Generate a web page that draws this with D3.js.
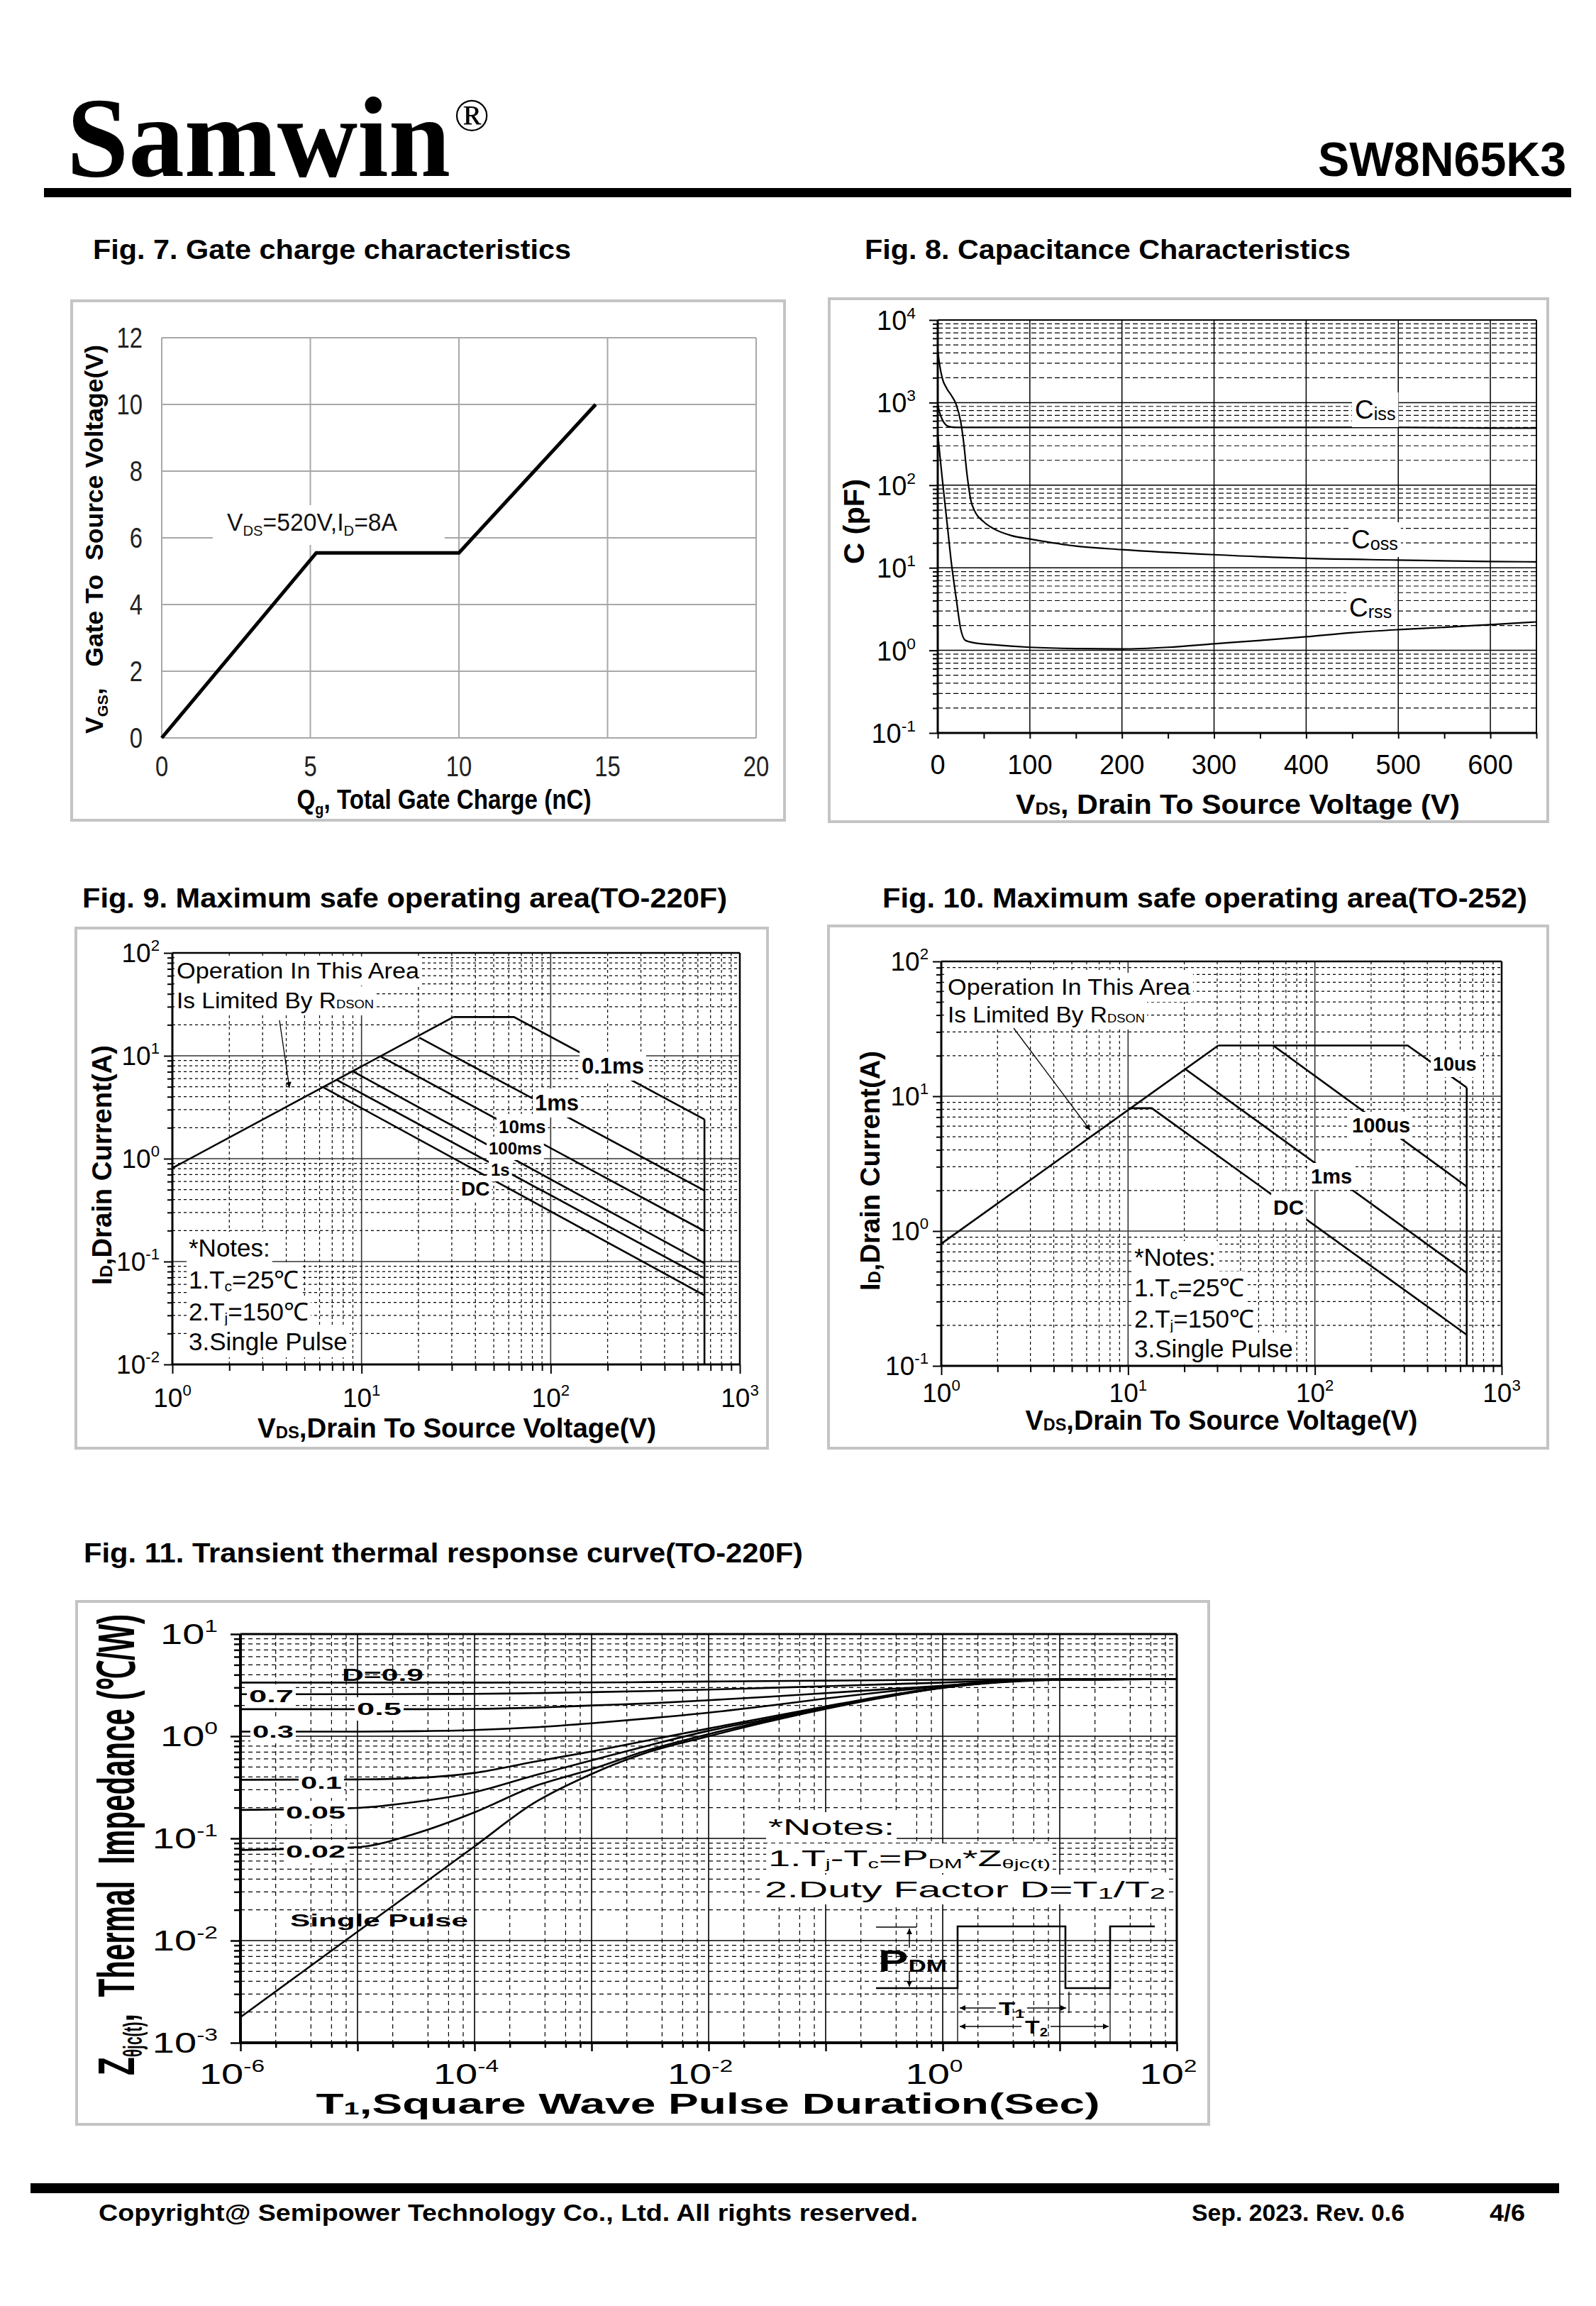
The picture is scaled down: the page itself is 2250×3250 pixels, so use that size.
<!DOCTYPE html>
<html>
<head>
<meta charset="utf-8">
<script src="https://cdn.jsdelivr.net/npm/d3@7"></script>
<style>
  body { margin: 0; background: #fff; }
  svg { display: block; }
  text { white-space: pre; }
</style>
</head>
<body>
<svg id="page" width="2250" height="3250"></svg>
<script>
const SANS = "'Liberation Sans', Arial, sans-serif";
const SERIF = "'Liberation Serif', 'Times New Roman', serif";

// Fig 7 - gate charge
const gcXTicks = [0, 5, 10, 15, 20];
const gcYTicks = [0, 2, 4, 6, 8, 10, 12];
const gcQ = [0, 5.2, 10, 14.6];
const gcV = [0, 5.55, 5.55, 10];

// Fig 8 - capacitance
const capXTicks = [0, 100, 200, 300, 400, 500, 600];
const capExps = [-1, 0, 1, 2, 3, 4];
const cissV = [0, 2, 5, 10, 15, 20, 30, 100, 200, 300, 400, 500, 600, 650];
const cissPF = [950, 760, 620, 525, 505, 500, 500, 500, 500, 500, 500, 500, 490, 490];
const cossV = [0, 2, 5, 10, 15, 20, 25, 28, 32, 36, 40, 50, 60, 80, 100, 150, 200, 300, 400, 500, 600, 650];
const cossPF = [4300, 2900, 1960, 1470, 1210, 950, 580, 340, 129, 65, 49, 36, 30, 24.5, 22.3, 18.3, 16.6, 14.4, 13.0, 12.4, 11.9, 11.8];
const crssV = [0, 5, 10, 15, 20, 25, 30, 40, 60, 100, 150, 200, 250, 300, 350, 400, 450, 500, 550, 600, 650];
const crssPF = [415, 117, 36, 11, 4.3, 1.8, 1.32, 1.23, 1.17, 1.09, 1.05, 1.04, 1.09, 1.2, 1.32, 1.46, 1.64, 1.78, 1.9, 2.05, 2.21];

// Fig 9 - SOA TO-220F  [V, A]
const soa220Rds = [[1, 0.81], [30.6, 23.8]];
const soa220T01m = [[30.6, 23.8], [64, 23.8], [650, 2.41]];
const soa220T1m = [[20.2, 15.0], [650, 0.49]];
const soa220T10m = [[12.7, 9.8], [650, 0.198]];
const soa220T100m = [[9.07, 7.0], [650, 0.0964]];
const soa220T1s = [[7.39, 5.83], [650, 0.069]];
const soa220Dc = [[6.32, 4.91], [650, 0.047]];
const soa220Bv = [[650, 2.41], [650, 0.01]];

// Fig 10 - SOA TO-252  [V, A]
const soa252Rds = [[1, 0.805], [30.4, 23.8]];
const soa252T10u = [[30.4, 23.8], [314, 23.8], [650, 11.6]];
const soa252T100u = [[59.8, 23.8], [650, 2.14]];
const soa252T1m = [[20.0, 16.1], [650, 0.489]];
const soa252Dc = [[10.07, 8.15], [13.4, 8.15], [650, 0.17]];
const soa252Bv = [[650, 11.6], [650, 0.1]];

// Fig 11 - transient thermal impedance
const zthT = [1e-6, 3.16e-6, 1e-5, 3.16e-5, 1e-4, 3.16e-4, 1e-3, 3.16e-3, 1e-2, 3.16e-2, 0.1, 0.316, 1, 3.16, 10, 100];
const zthD09 = [3.35, 3.35, 3.35, 3.35, 3.35, 3.36, 3.36, 3.39, 3.43, 3.47, 3.5, 3.54, 3.57, 3.6, 3.62, 3.63];
const zthD07 = [2.58, 2.58, 2.58, 2.59, 2.6, 2.64, 2.7, 2.77, 2.86, 2.97, 3.09, 3.22, 3.35, 3.5, 3.6, 3.63];
const zthD05 = [1.84, 1.84, 1.84, 1.84, 1.85, 1.9, 2.0, 2.1, 2.25, 2.43, 2.64, 2.88, 3.12, 3.45, 3.59, 3.63];
const zthD03 = [1.11, 1.11, 1.11, 1.12, 1.15, 1.22, 1.34, 1.5, 1.7, 1.98, 2.34, 2.72, 3.1, 3.45, 3.59, 3.63];
const zthD01 = [0.375, 0.376, 0.378, 0.39, 0.438, 0.56, 0.71, 0.92, 1.19, 1.53, 1.96, 2.48, 3.01, 3.43, 3.59, 3.63];
const zthD005 = [0.19, 0.193, 0.199, 0.228, 0.283, 0.41, 0.58, 0.82, 1.13, 1.47, 1.92, 2.45, 3.0, 3.42, 3.58, 3.63];
const zthD002 = [0.077, 0.079, 0.082, 0.112, 0.18, 0.32, 0.475, 0.74, 1.05, 1.42, 1.88, 2.42, 2.98, 3.4, 3.58, 3.63];
const zthSingle = [0.00178, 0.00466, 0.0122, 0.0319, 0.0836, 0.219, 0.427, 0.708, 1.0, 1.38, 1.85, 2.4, 2.98, 3.37, 3.57, 3.63];
const zthLabels = ["D=0.9", "0.7", "0.5", "0.3", "0.1", "0.05", "0.02", "Single Pulse"];

const svg = d3.select("#page");
svg.append("rect").attr("width", 2250).attr("height", 3250).attr("fill", "#fff");

const defs = svg.append("defs");
defs.append("marker").attr("id", "arr")
    .attr("viewBox", "0 0 10 10").attr("refX", 10).attr("refY", 5)
    .attr("markerWidth", 12).attr("markerHeight", 8).attr("markerUnits", "userSpaceOnUse")
    .attr("orient", "auto-start-reverse")
    .append("path").attr("d", "M0,0 L10,5 L0,10 z").attr("fill", "#000");

// text with sub/superscript parts
function txt(g, x, y, parts, o = {}) {
    const size = o.size || 30;
    const t = g.append("text")
        .attr("x", x).attr("y", y)
        .attr("font-size", size)
        .attr("font-family", o.family || SANS)
        .attr("font-weight", o.bold ? "bold" : "normal")
        .attr("text-anchor", o.anchor || "start")
        .attr("fill", o.fill || "#000");
    if (typeof parts === "string") parts = [[parts]];
    let shift = 0;
    parts.forEach(([s, kind]) => {
        const target = kind === "sub" ? size * (o.subDy ?? 0.2) : kind === "sup" ? -size * 0.42 : 0;
        t.append("tspan")
            .attr("font-size", kind ? size * (o.small || 0.6) : size)
            .attr("dy", target - shift)
            .text(s);
        shift = target;
    });
    if (o.len) t.attr("textLength", o.len).attr("lengthAdjust", "spacingAndGlyphs");
    if (o.rotate) t.attr("transform", `rotate(-90, ${x}, ${y})`);
    if (o.bg) {
        const b = t.node().getBBox();
        const p = o.bg === true ? 3 : o.bg;
        g.insert("rect", () => t.node())
            .attr("x", b.x - p).attr("y", b.y - p)
            .attr("width", b.width + 2 * p).attr("height", b.height + 2 * p)
            .attr("fill", "#fff");
    }
    return t;
}

// label squeezed or stretched horizontally around its anchor
function scaledTxt(g, x, y, sx, parts, o) {
    const lg = g.append("g").attr("transform", `translate(${x},${y}) scale(${sx},1)`);
    return txt(lg, 0, 0, parts, o);
}

function hLines(g, y, vals, x0, x1, st) {
    g.append("g").selectAll("line").data(vals).join("line")
        .attr("x1", x0).attr("x2", x1)
        .attr("y1", d => y(d)).attr("y2", d => y(d))
        .attr("stroke", st.color || "#000").attr("stroke-width", st.w || 1)
        .attr("stroke-dasharray", st.dash || null);
}

function vLines(g, x, vals, y0, y1, st) {
    g.append("g").selectAll("line").data(vals).join("line")
        .attr("y1", y0).attr("y2", y1)
        .attr("x1", d => x(d)).attr("x2", d => x(d))
        .attr("stroke", st.color || "#000").attr("stroke-width", st.w || 1)
        .attr("stroke-dasharray", st.dash || null);
}

function logTicks(e0, e1, mults) {
    const out = [];
    for (let e = e0; e < e1; e++) for (const m of mults) out.push(m * Math.pow(10, e));
    return out;
}

function tickAxis(g, axis, tr, w) {
    const a = g.append("g").attr("transform", tr).call(axis);
    a.select("path.domain").remove();
    a.selectAll("line").attr("stroke", "#000").attr("stroke-width", w || 2);
    a.selectAll("text").remove();
    return a;
}

function frame(g, L, R, T, B, wThick, wThin) {
    g.append("line").attr("x1", L).attr("x2", L).attr("y1", T).attr("y2", B).attr("stroke", "#000").attr("stroke-width", wThick);
    g.append("line").attr("x1", L).attr("x2", R).attr("y1", B).attr("y2", B).attr("stroke", "#000").attr("stroke-width", wThick);
    g.append("line").attr("x1", L).attr("x2", R).attr("y1", T).attr("y2", T).attr("stroke", "#000").attr("stroke-width", wThin);
    g.append("line").attr("x1", R).attr("x2", R).attr("y1", T).attr("y2", B).attr("stroke", "#000").attr("stroke-width", wThin);
}

function box(x0, y0, x1, y1) {
    svg.append("rect").attr("x", x0).attr("y", y0).attr("width", x1 - x0).attr("height", y1 - y0)
        .attr("fill", "none").attr("stroke", "#c4c4c4").attr("stroke-width", 4);
}

// ---------- header / footer ----------
txt(svg, 94, 248, "Samwin", { size: 160, bold: true, family: SERIF, len: 541 });
txt(svg, 640, 184, "®", { size: 66, family: SERIF });
txt(svg, 2208, 248, "SW8N65K3", { size: 69, bold: true, anchor: "end", len: 350 });
svg.append("rect").attr("x", 62).attr("y", 265).attr("width", 2153).attr("height", 13).attr("fill", "#000");

svg.append("rect").attr("x", 43).attr("y", 3077).attr("width", 2155).attr("height", 14).attr("fill", "#000");
txt(svg, 139, 3130, "Copyright@ Semipower Technology Co., Ltd. All rights reserved.", { size: 33, bold: true, len: 1155 });
txt(svg, 1680, 3130, "Sep. 2023. Rev. 0.6", { size: 33, bold: true, len: 300 });
txt(svg, 2100, 3130, "4/6", { size: 33, bold: true, len: 50 });

// titles
txt(svg, 131, 365, "Fig. 7. Gate charge characteristics", { size: 38, bold: true, len: 674 });
txt(svg, 1219, 365, "Fig. 8. Capacitance Characteristics", { size: 38, bold: true, len: 685 });
txt(svg, 116, 1279, "Fig. 9. Maximum safe operating area(TO-220F)", { size: 38, bold: true, len: 909 });
txt(svg, 1244, 1279, "Fig. 10. Maximum safe operating area(TO-252)", { size: 38, bold: true, len: 909 });
txt(svg, 118, 2202, "Fig. 11. Transient thermal response curve(TO-220F)", { size: 38, bold: true, len: 1014 });

// ---------- Fig 7 ----------
function drawGateCharge() {
    box(101, 424, 1106, 1156);
    const g = svg.append("g");
    const x = d3.scaleLinear().domain([0, 20]).range([228, 1066]);
    const y = d3.scaleLinear().domain([0, 12]).range([1040, 476]);
    vLines(g, x, gcXTicks, y(0), y(12), { color: "#a8a8a8", w: 2 });
    hLines(g, y, gcYTicks, x(0), x(20), { color: "#a8a8a8", w: 2 });

    gcYTicks.forEach(v => scaledTxt(g, 201, y(v) + 14, 0.82, String(v), { size: 40, anchor: "end", fill: "#222" }));
    gcXTicks.forEach(v => scaledTxt(g, x(v), 1094, 0.82, String(v), { size: 40, anchor: "middle", fill: "#222" }));

    g.append("path")
        .datum(gcQ.map((q, i) => [q, gcV[i]]))
        .attr("d", d3.line().x(d => x(d[0])).y(d => y(d[1])))
        .attr("fill", "none").attr("stroke", "#000").attr("stroke-width", 5);

    g.append("rect").attr("x", 300).attr("y", 712).attr("width", 327).attr("height", 56).attr("fill", "#fff");
    txt(g, 320, 748, [["V"], ["DS", "sub"], ["=520V,I"], ["D", "sub"], ["=8A"]], { size: 35, len: 240, fill: "#111" });

    txt(g, 145, 760, [["V"], ["GS", "sub"], [",   Gate To  Source Voltage(V)"]], { size: 35, bold: true, anchor: "middle", rotate: true, len: 548 });
    txt(g, 626, 1140, [["Q"], ["g", "sub"], [", Total Gate Charge (nC)"]], { size: 38, bold: true, anchor: "middle", len: 415 });
}

// ---------- Fig 8 ----------
function drawCapacitance() {
    box(1169, 421, 2182, 1158);
    const g = svg.append("g");
    const x = d3.scaleLinear().domain([0, 650]).range([1322, 2166]);
    const y = d3.scaleLog().domain([0.1, 10000]).range([1033, 451]);
    const [L, R] = x.range(), [B, T] = y.range();

    hLines(g, y, logTicks(-1, 4, [2, 3, 4, 5, 6, 7, 8, 9]), L, R, { w: 1.2, dash: "7,4" });
    hLines(g, y, [1, 10, 100, 1000], L, R, { w: 1.5 });
    vLines(g, x, capXTicks.slice(1), T, B, { w: 1.5 });

    tickAxis(g, d3.axisBottom(x).tickValues(d3.range(0, 651, 50)).tickSize(8).tickFormat(""), `translate(0,${B})`);
    tickAxis(g, d3.axisLeft(y).tickValues(logTicks(-1, 4, [2, 3, 4, 5, 6, 7, 8, 9])).tickSize(7).tickFormat(""), `translate(${L},0)`);
    tickAxis(g, d3.axisLeft(y).tickValues(capExps.map(e => Math.pow(10, e))).tickSize(12).tickFormat(""), `translate(${L},0)`);
    frame(g, L, R, T, B, 3, 2);

    capExps.forEach(e => txt(g, 1291, y(Math.pow(10, e)) + 14, [["10"], [String(e), "sup"]], { size: 38, anchor: "end" }));
    capXTicks.forEach(v => txt(g, x(v), 1091, String(v), { size: 38, anchor: "middle" }));

    const line = d3.line().x(d => x(d[0])).y(d => y(d[1])).curve(d3.curveMonotoneX);
    [[cissV, cissPF], [cossV, cossPF], [crssV, crssPF]].forEach(([vs, cs]) => {
        g.append("path").datum(vs.map((v, i) => [v, cs[i]]))
            .attr("d", line).attr("fill", "none").attr("stroke", "#000").attr("stroke-width", 2.2);
    });

    txt(g, 1910, 590, [["C"], ["iss", "sub"]], { size: 37, small: 0.68, subDy: 0.06, bg: 4 });
    txt(g, 1905, 773, [["C"], ["oss", "sub"]], { size: 37, small: 0.68, subDy: 0.06, bg: 4 });
    txt(g, 1902, 869, [["C"], ["rss", "sub"]], { size: 37, small: 0.68, subDy: 0.06, bg: 4 });

    txt(g, 1218, 735, "C (pF)", { size: 40, bold: true, anchor: "middle", rotate: true, len: 120 });
    txt(g, 1745, 1147, [["V"], ["DS", "sub"], [", Drain To Source Voltage (V)"]], { size: 38, bold: true, anchor: "middle", len: 626, small: 0.62, subDy: 0.03 });
}

// ---------- Fig 9 / 10 ----------
function drawSoa(c) {
    box(...c.box);
    const g = svg.append("g");
    const x = d3.scaleLog().domain([1, 1000]).range([c.L, c.R]);
    const y = d3.scaleLog().domain([Math.pow(10, c.yExp[0]), Math.pow(10, c.yExp[1])]).range([c.B, c.T]);
    const minorX = logTicks(0, 3, [2, 3, 4, 5, 6, 7, 8, 9]);
    const minorY = logTicks(c.yExp[0], c.yExp[1], [2, 3, 4, 5, 6, 7, 8, 9]);
    const majX = [10, 100];
    const majY = d3.range(c.yExp[0] + 1, c.yExp[1]).map(e => Math.pow(10, e));

    hLines(g, y, minorY, c.L, c.R, { w: 1.2, dash: "4,4" });
    vLines(g, x, minorX, c.T, c.B, { w: 1.2, dash: "4,4" });
    hLines(g, y, majY, c.L, c.R, { w: 1.6, color: "#333" });
    vLines(g, x, majX, c.T, c.B, { w: 1.6, color: "#333" });

    tickAxis(g, d3.axisBottom(x).tickValues(minorX).tickSize(9).tickFormat(""), `translate(0,${c.B})`);
    tickAxis(g, d3.axisBottom(x).tickValues([1, 10, 100, 1000]).tickSize(13).tickFormat(""), `translate(0,${c.B})`);
    tickAxis(g, d3.axisLeft(y).tickValues(minorY).tickSize(7).tickFormat(""), `translate(${c.L},0)`);
    tickAxis(g, d3.axisLeft(y).tickValues(majY.concat([y.domain()[0], y.domain()[1]])).tickSize(12).tickFormat(""), `translate(${c.L},0)`);
    frame(g, c.L, c.R, c.T, c.B, 3, 2.5);

    d3.range(c.yExp[0], c.yExp[1] + 1).forEach(e =>
        txt(g, c.L - 18, y(Math.pow(10, e)) + 13, [["10"], [String(e), "sup"]], { size: 37, anchor: "end" }));
    [0, 1, 2, 3].forEach(e =>
        txt(g, x(Math.pow(10, e)), c.xLabY, [["10"], [String(e), "sup"]], { size: 37, anchor: "middle" }));

    const line = d3.line().x(d => x(d[0])).y(d => y(d[1]));
    c.lines.forEach(pts => {
        g.append("path").datum(pts).attr("d", line)
            .attr("fill", "none").attr("stroke", "#000").attr("stroke-width", 2.6);
    });

    c.labels.forEach(l => txt(g, l[1], l[2], l[0], { size: l[3], bold: true, bg: 3 }));

    txt(g, c.opX, c.opY[0], "Operation In This Area", { size: 31, len: 342, bg: 3 });
    txt(g, c.opX, c.opY[1], [["Is Limited By R"], ["DSON", "sub"]], { size: 31, len: 278, small: 0.55, subDy: 0, bg: 3 });
    g.append("line")
        .attr("x1", c.arrow[0]).attr("y1", c.arrow[1]).attr("x2", c.arrow[2]).attr("y2", c.arrow[3])
        .attr("stroke", "#000").attr("stroke-width", 1.3).attr("marker-end", "url(#arr)");

    const notes = [
        [["*Notes:"]],
        [["1.T"], ["c", "sub"], ["=25℃"]],
        [["2.T"], ["j", "sub"], ["=150℃"]],
        [["3.Single Pulse"]]
    ];
    notes.forEach((n, i) => txt(g, c.noteX, c.noteY[i], n, { size: 35, small: 0.6, subDy: 0.1, bg: 3 }));

    txt(g, c.yTitle[0], c.yTitle[1], [["I"], ["D", "sub"], [",Drain Current(A)"]], { size: 38, bold: true, anchor: "middle", rotate: true, len: 338, small: 0.62, subDy: 0.03 });
    txt(g, c.xTitle[0], c.xTitle[1], [["V"], ["DS", "sub"], [",Drain To Source Voltage(V)"]], { size: 38, bold: true, anchor: "middle", len: c.xTitle[2], small: 0.62, subDy: 0.03 });
}

// ---------- Fig 11 ----------
function drawThermal() {
    box(108, 2257, 1704, 2994);
    const g = svg.append("g");
    const x = d3.scaleLog().domain([1e-6, 100]).range([339, 1659]);
    const y = d3.scaleLog().domain([1e-3, 10]).range([2879, 2303]);
    const [L, R] = x.range(), [B, T] = y.range();
    const minorX = logTicks(-6, 2, [2, 4, 6, 8]);
    const minorY = logTicks(-3, 1, [2, 3, 4, 5, 6, 7, 8, 9]);
    const majX = d3.range(-5, 2).map(e => Math.pow(10, e));
    const majY = d3.range(-2, 1).map(e => Math.pow(10, e));

    hLines(g, y, minorY, L, R, { w: 1.2, dash: "6,5" });
    vLines(g, x, minorX, T, B, { w: 1.2, dash: "6,5" });
    hLines(g, y, majY, L, R, { w: 1.6 });
    vLines(g, x, majX, T, B, { w: 1.6 });

    tickAxis(g, d3.axisBottom(x).tickValues(minorX).tickSize(7).tickFormat(""), `translate(0,${B})`, 2.5);
    tickAxis(g, d3.axisBottom(x).tickValues(majX.concat([1e-6, 100])).tickSize(12).tickFormat(""), `translate(0,${B})`, 2.5);
    tickAxis(g, d3.axisLeft(y).tickValues(minorY).tickSize(9).tickFormat(""), `translate(${L},0)`, 2.5);
    tickAxis(g, d3.axisLeft(y).tickValues(majY.concat([1e-3, 10])).tickSize(14).tickFormat(""), `translate(${L},0)`, 2.5);
    frame(g, L, R, T, B, 4, 3);

    d3.range(-3, 2).forEach(e =>
        scaledTxt(g, 307, y(Math.pow(10, e)) + 14, 1.4, [["10"], [String(e), "sup"]], { size: 40, anchor: "end" }));
    [-6, -4, -2, 0, 2].forEach(e =>
        scaledTxt(g, x(Math.pow(10, e)) - 12, 2937, 1.4, [["10"], [String(e), "sup"]], { size: 40, anchor: "middle" }));

    const line = d3.line().x((d, i) => x(zthT[i])).y(d => y(d)).curve(d3.curveMonotoneX);
    [zthD09, zthD07, zthD05, zthD03, zthD01, zthD005, zthD002, zthSingle].forEach(s => {
        g.append("path").datum(s).attr("d", line)
            .attr("fill", "none").attr("stroke", "#000").attr("stroke-width", 2.6);
    });

    // label positions: x, baseline, width
    const labPos = [[482, 2369, 115], [351, 2399, 63], [503, 2417, 63], [356, 2449, 58],
                    [424, 2521, 58], [403, 2563, 84], [403, 2618, 84], [409, 2715, 251]];
    zthLabels.forEach((s, i) => {
        const [lx, ly, lw] = labPos[i];
        const bg = i === 0 || i === 7 ? null : 3;
        txt(g, lx, ly, s, { size: 24, bold: true, len: lw, bg: bg });
    });

    txt(g, 1083, 2586, "*Notes:", { size: 32, len: 178, bg: 3 });
    txt(g, 1083, 2630, [["1.T"], ["j", "sub"], ["-T"], ["c", "sub"], ["=P"], ["DM", "sub"], ["*Z"], ["θjc(t)", "sub"]], { size: 32, len: 398, small: 0.55, subDy: 0.08, bg: 3 });
    txt(g, 1078, 2674, [["2.Duty Factor D=T"], ["1", "sub"], ["/T"], ["2", "sub"]], { size: 32, len: 565, small: 0.7, subDy: 0.05, bg: 3 });

    // pulse sketch
    const pulse = [[1235, 2802], [1350, 2802], [1350, 2715], [1502, 2715], [1502, 2802], [1565, 2802], [1565, 2715], [1628, 2715]];
    g.append("path").datum(pulse).attr("d", d3.line()).attr("fill", "none").attr("stroke", "#000").attr("stroke-width", 2.6);
    g.append("line").attr("x1", 1235).attr("x2", 1292).attr("y1", 2716).attr("y2", 2716).attr("stroke", "#000").attr("stroke-width", 1.5);
    [[1350, 2802, 2879], [1507, 2807, 2837], [1565, 2802, 2879]].forEach(([lx, a, b]) =>
        g.append("line").attr("x1", lx).attr("x2", lx).attr("y1", a).attr("y2", b).attr("stroke", "#000").attr("stroke-width", 1.3));
    const arrows = [[1282, 2745, 1282, 2718], [1282, 2778, 1282, 2800],
                    [1404, 2830, 1353, 2830], [1448, 2830, 1503, 2830],
                    [1440, 2856, 1353, 2856], [1481, 2856, 1563, 2856]];
    arrows.forEach(a => g.append("line").attr("x1", a[0]).attr("y1", a[1]).attr("x2", a[2]).attr("y2", a[3])
        .attr("stroke", "#000").attr("stroke-width", 1.5).attr("marker-end", "url(#arr)"));
    txt(g, 1238, 2778, [["P"], ["DM", "sub"]], { size: 42, bold: true, small: 0.55, subDy: 0.02, len: 97 });
    txt(g, 1408, 2840, [["T"], ["1", "sub"]], { size: 26, bold: true, small: 0.6, subDy: 0.15, len: 36 });
    txt(g, 1445, 2866, [["T"], ["2", "sub"]], { size: 26, bold: true, small: 0.6, subDy: 0.15, len: 32 });

    txt(g, 189, 2600, [["Z"], ["θjc(t)", "sub"], [",  Thermal  Impedance (℃/W)"]], { size: 72, bold: true, anchor: "middle", rotate: true, len: 650, small: 0.5, subDy: 0.15 });
    txt(g, 998, 2979, [["T"], ["1", "sub"], [",Square Wave Pulse Duration(Sec)"]], { size: 40, bold: true, anchor: "middle", len: 1105, small: 0.62, subDy: 0.03 });
}

drawGateCharge();
drawCapacitance();
drawSoa({
    box: [107, 1308, 1082, 2041],
    L: 243, R: 1043, T: 1343, B: 1923, yExp: [-2, 2], xLabY: 1983,
    lines: [soa220Rds, soa220T01m, soa220T1m, soa220T10m, soa220T100m, soa220T1s, soa220Dc, soa220Bv],
    labels: [["0.1ms", 820, 1513, 31], ["1ms", 754, 1565, 31], ["10ms", 703, 1597, 26],
             ["100ms", 689, 1627, 24], ["1s", 692, 1657, 24], ["DC", 650, 1685, 28]],
    opX: 249, opY: [1379, 1421], arrow: [394, 1438, 408, 1533],
    noteX: 266, noteY: [1771, 1816, 1861, 1903],
    yTitle: [157, 1642], xTitle: [644, 2026, 562]
});
drawSoa({
    box: [1168, 1305, 2182, 2041],
    L: 1327, R: 2117, T: 1355, B: 1925, yExp: [-1, 2], xLabY: 1976,
    lines: [soa252Rds, soa252T10u, soa252T100u, soa252T1m, soa252Dc, soa252Bv],
    labels: [["10us", 2020, 1509, 27], ["100us", 1906, 1596, 29], ["1ms", 1848, 1668, 29], ["DC", 1795, 1712, 30]],
    opX: 1336, opY: [1402, 1441], arrow: [1429, 1449, 1537, 1593],
    noteX: 1599, noteY: [1784, 1827, 1871, 1913],
    yTitle: [1240, 1650], xTitle: [1722, 2015, 553]
});
drawThermal();
</script>
</body>
</html>
